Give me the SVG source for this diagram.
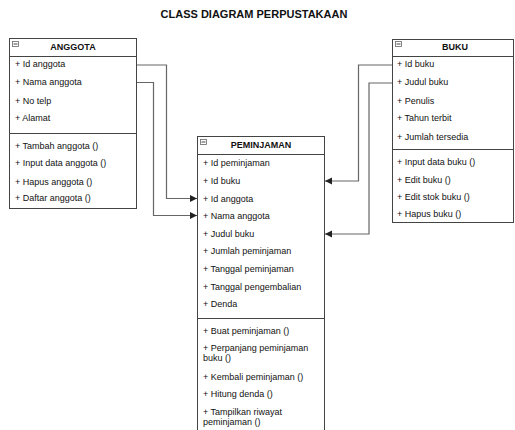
<svg xmlns="http://www.w3.org/2000/svg" width="515" height="430" viewBox="0 0 515 430">
<style>
.box{fill:#fff;stroke:#444;stroke-width:1}
.ln{stroke:#444;stroke-width:1;fill:none}
.t{font-family:"Liberation Sans",Arial,sans-serif;font-size:9px;fill:#111}
.h{font-family:"Liberation Sans",Arial,sans-serif;font-size:9px;font-weight:bold;fill:#111;text-anchor:middle}
.ttl{font-family:"Liberation Sans",Arial,sans-serif;font-size:11px;font-weight:bold;fill:#111;text-anchor:middle}
.ic{fill:#fff;stroke:#666;stroke-width:0.8}
.c{stroke:#666;stroke-width:1.2;fill:none}
</style>
<defs>
<marker id="arr" markerWidth="8" markerHeight="8" refX="7" refY="4" orient="auto" markerUnits="userSpaceOnUse">
<path d="M0,0.5 L7,4 L0,7.5 Z" fill="#222"/>
</marker>
</defs>
<rect width="515" height="430" fill="#fff"/>
<text class="ttl" x="254" y="18">CLASS DIAGRAM PERPUSTAKAAN</text>

<g id="connectors">
<polyline class="c" points="136.5,65 166.5,65 166.5,198.5 197,198.5" marker-end="url(#arr)"/>
<polyline class="c" points="136.5,82.5 153.5,82.5 153.5,215.5 197,215.5" marker-end="url(#arr)"/>
<polyline class="c" points="392,65 358.5,65 358.5,181 325,181" marker-end="url(#arr)"/>
<polyline class="c" points="392,83 369,83 369,234 325,234" marker-end="url(#arr)"/>
</g>

<g id="anggota">
<rect class="box" x="9.5" y="38.5" width="127" height="170"/>
<line class="ln" x1="9.5" y1="56.5" x2="136.5" y2="56.5"/>
<line class="ln" x1="9.5" y1="133.5" x2="136.5" y2="133.5"/>
<rect class="ic" x="12.5" y="41.5" width="6" height="5"/><line class="ln" x1="13.5" y1="44" x2="17.5" y2="44"/>
<text class="h" x="73" y="50">ANGGOTA</text>
<text class="t" x="15" y="67">+ Id anggota</text>
<text class="t" x="15" y="85">+ Nama anggota</text>
<text class="t" x="15" y="103.5">+ No telp</text>
<text class="t" x="15" y="121">+ Alamat</text>
<text class="t" x="15" y="148.5">+ Tambah anggota ()</text>
<text class="t" x="15" y="166">+ Input data anggota ()</text>
<text class="t" x="15" y="184.5">+ Hapus anggota ()</text>
<text class="t" x="15" y="200.5">+ Daftar anggota ()</text>
</g>

<g id="buku">
<rect class="box" x="392.5" y="39.5" width="121" height="183"/>
<line class="ln" x1="392.5" y1="56.5" x2="513.5" y2="56.5"/>
<line class="ln" x1="392.5" y1="149.5" x2="513.5" y2="149.5"/>
<rect class="ic" x="395.5" y="41.5" width="6" height="5"/><line class="ln" x1="396.5" y1="44" x2="400.5" y2="44"/>
<text class="h" x="455" y="50">BUKU</text>
<text class="t" x="397" y="67">+ Id buku</text>
<text class="t" x="397" y="85">+ Judul buku</text>
<text class="t" x="397" y="103.5">+ Penulis</text>
<text class="t" x="397" y="121">+ Tahun terbit</text>
<text class="t" x="397" y="139.5">+ Jumlah tersedia</text>
<text class="t" x="397" y="165">+ Input data buku ()</text>
<text class="t" x="397" y="183">+ Edit buku ()</text>
<text class="t" x="397" y="199.5">+ Edit stok buku ()</text>
<text class="t" x="397" y="217">+ Hapus buku ()</text>
</g>

<g id="peminjaman">
<rect class="box" x="197.5" y="136.5" width="127" height="300"/>
<line class="ln" x1="197.5" y1="154.5" x2="324.5" y2="154.5"/>
<line class="ln" x1="197.5" y1="318.5" x2="324.5" y2="318.5"/>
<rect class="ic" x="200.5" y="139.5" width="6" height="5"/><line class="ln" x1="201.5" y1="142" x2="205.5" y2="142"/>
<text class="h" x="261" y="148">PEMINJAMAN</text>
<text class="t" x="203" y="166">+ Id peminjaman</text>
<text class="t" x="203" y="184">+ Id buku</text>
<text class="t" x="203" y="202">+ Id anggota</text>
<text class="t" x="203" y="219">+ Nama anggota</text>
<text class="t" x="203" y="237">+ Judul buku</text>
<text class="t" x="203" y="254">+ Jumlah peminjaman</text>
<text class="t" x="203" y="271.5">+ Tanggal peminjaman</text>
<text class="t" x="203" y="289.5">+ Tanggal pengembalian</text>
<text class="t" x="203" y="307">+ Denda</text>
<text class="t" x="203" y="334">+ Buat peminjaman ()</text>
<text class="t" x="203" y="351">+ Perpanjang peminjaman</text>
<text class="t" x="203" y="361">buku ()</text>
<text class="t" x="203" y="380">+ Kembali peminjaman ()</text>
<text class="t" x="203" y="397">+ Hitung denda ()</text>
<text class="t" x="203" y="415">+ Tampilkan riwayat</text>
<text class="t" x="203" y="424.5">peminjaman ()</text>
</g>
</svg>
